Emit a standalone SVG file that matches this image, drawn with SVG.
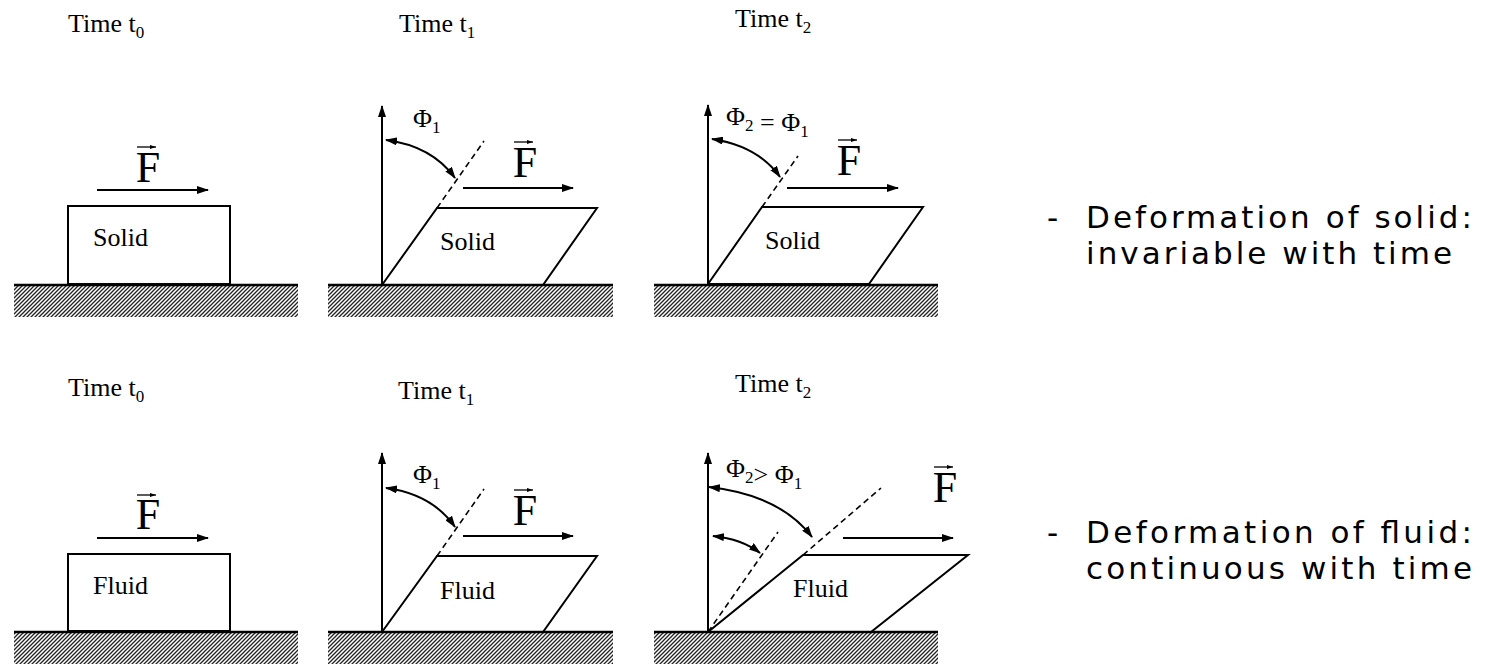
<svg xmlns="http://www.w3.org/2000/svg" width="1486" height="664" viewBox="0 0 1486 664">
<style>
.t{font-family:"Liberation Serif","Times New Roman",serif;font-size:26px;fill:#000}
.sub{font-size:17px}
.F{font-family:"Liberation Serif","Times New Roman",serif;font-size:44px;fill:#000;text-anchor:middle}
.v{font-family:"DejaVu Sans",Verdana,sans-serif;font-size:31px;fill:#000}
.gnd{stroke:#000;stroke-width:2.5}
.dash{stroke:#000;stroke-width:1.6;fill:none;stroke-dasharray:6 4}
.arc{stroke:#000;stroke-width:2;fill:none;marker-start:url(#ah);marker-end:url(#ah)}
.arr{stroke:#000;stroke-width:2;fill:none;marker-end:url(#ah)}
.vec{stroke:#000;stroke-width:1.3;fill:none;marker-end:url(#sh)}
.body{stroke:#000;stroke-width:2;fill:#fff}
</style>
<defs>
<pattern id="hatch" patternUnits="userSpaceOnUse" width="4" height="4">
<rect width="4" height="4" fill="#fff"/>
<path d="M-1,1 l2,-2 M0,4 l4,-4 M3,5 l2,-2" stroke="#222" stroke-width="1.3"/>
</pattern>
<marker id="ah" viewBox="0 0 12 8" refX="11" refY="4" markerWidth="12" markerHeight="8" markerUnits="userSpaceOnUse" orient="auto-start-reverse">
<path d="M0,0 L12,4 L0,8 z" fill="#000"/>
</marker>
<marker id="sh" viewBox="0 0 6 4" refX="6" refY="2" markerWidth="6" markerHeight="4" markerUnits="userSpaceOnUse" orient="auto">
<path d="M0,0 L6,2 L0,4 z" fill="#000"/>
</marker>
</defs>

<g id="solid-t0">
<text class="t" x="68" y="32">Time t<tspan class="sub" dy="6">0</tspan></text>
<rect x="14" y="285" width="284" height="32" fill="url(#hatch)"/>
<rect class="body" x="68" y="206" width="162" height="78"/>
<line class="gnd" x1="14" y1="285" x2="298" y2="285"/>
<text class="t" x="93" y="246">Solid</text>
<line class="arr" x1="97" y1="190" x2="208" y2="190"/>
<text class="F" x="148" y="182">F</text>
<line class="vec" x1="137" y1="147" x2="156" y2="147"/>
</g>

<g id="solid-t1">
<text class="t" x="399" y="32">Time t<tspan class="sub" dy="6">1</tspan></text>
<rect x="328" y="285" width="285" height="32" fill="url(#hatch)"/>
<polygon class="body" points="382,285 437,208 597,208 543,285"/>
<line class="gnd" x1="328" y1="285" x2="613" y2="285"/>
<line class="arr" x1="382" y1="285" x2="382" y2="106"/>
<line class="dash" x1="437" y1="208" x2="484" y2="141"/>
<path class="arc" d="M386,140 Q432,146 455,178"/>
<text class="t" x="413" y="127">Φ<tspan class="sub" dy="6">1</tspan></text>
<text class="t" x="440" y="250">Solid</text>
<line class="arr" x1="463" y1="188" x2="573" y2="188"/>
<text class="F" x="525" y="177">F</text>
<line class="vec" x1="514" y1="142" x2="533" y2="142"/>
</g>

<g id="solid-t2">
<text class="t" x="735" y="27">Time t<tspan class="sub" dy="6">2</tspan></text>
<rect x="654" y="285" width="284" height="32" fill="url(#hatch)"/>
<polygon class="body" points="708,284 762,207 923,207 869,284"/>
<line class="gnd" x1="654" y1="285" x2="938" y2="285"/>
<line class="arr" x1="708" y1="285" x2="708" y2="105"/>
<line class="dash" x1="762" y1="207" x2="798" y2="156"/>
<path class="arc" d="M712,139 Q758,146 780,177"/>
<text class="t" x="726" y="125">Φ<tspan class="sub" dy="6">2</tspan> = Φ<tspan class="sub" dy="6">1</tspan></text>
<text class="t" x="765" y="249">Solid</text>
<line class="arr" x1="787" y1="188" x2="898" y2="188"/>
<text class="F" x="849" y="175">F</text>
<line class="vec" x1="838" y1="140" x2="857" y2="140"/>
</g>

<g id="solid-note">
<text class="v"><tspan x="1047" y="228">-</tspan><tspan x="1086" y="228" textLength="386" lengthAdjust="spacing">Deformation of solid:</tspan><tspan x="1086" y="264" textLength="366" lengthAdjust="spacing">invariable with time</tspan></text>
</g>

<g id="fluid-t0">
<text class="t" x="68" y="396">Time t<tspan class="sub" dy="6">0</tspan></text>
<rect x="14" y="632" width="284" height="32" fill="url(#hatch)"/>
<rect class="body" x="68" y="554" width="162" height="77"/>
<line class="gnd" x1="14" y1="632" x2="298" y2="632"/>
<text class="t" x="93" y="594">Fluid</text>
<line class="arr" x1="97" y1="538" x2="208" y2="538"/>
<text class="F" x="148" y="529">F</text>
<line class="vec" x1="137" y1="495" x2="156" y2="495"/>
</g>

<g id="fluid-t1">
<text class="t" x="398" y="399">Time t<tspan class="sub" dy="6">1</tspan></text>
<rect x="328" y="632" width="285" height="32" fill="url(#hatch)"/>
<polygon class="body" points="382,632 437,556 597,556 543,632"/>
<line class="gnd" x1="328" y1="632" x2="613" y2="632"/>
<line class="arr" x1="382" y1="632" x2="382" y2="453"/>
<line class="dash" x1="437" y1="556" x2="484" y2="489"/>
<path class="arc" d="M386,488 Q432,494 455,527"/>
<text class="t" x="413" y="483">Φ<tspan class="sub" dy="6">1</tspan></text>
<text class="t" x="440" y="599">Fluid</text>
<line class="arr" x1="463" y1="536" x2="573" y2="536"/>
<text class="F" x="525" y="525">F</text>
<line class="vec" x1="514" y1="490" x2="533" y2="490"/>
</g>

<g id="fluid-t2">
<text class="t" x="735" y="392">Time t<tspan class="sub" dy="6">2</tspan></text>
<rect x="654" y="632" width="284" height="32" fill="url(#hatch)"/>
<polygon class="body" points="708,632 803,555 968,555 871,632"/>
<line class="gnd" x1="654" y1="632" x2="938" y2="632"/>
<line class="arr" x1="708" y1="632" x2="708" y2="453"/>
<line class="dash" x1="803" y1="555" x2="881" y2="488"/>
<line class="dash" x1="708" y1="632" x2="778" y2="532"/>
<path class="arc" d="M709,487 Q780,495 812,537"/>
<path class="arc" d="M713,536 Q742,539 760,553"/>
<text class="t" x="726" y="477">Φ<tspan class="sub" dy="6">2</tspan>&gt; Φ<tspan class="sub" dy="6">1</tspan></text>
<text class="t" x="793" y="597">Fluid</text>
<line class="arr" x1="843" y1="538" x2="953" y2="538"/>
<text class="F" x="945" y="502">F</text>
<line class="vec" x1="934" y1="467" x2="953" y2="467"/>
</g>

<g id="fluid-note">
<text class="v"><tspan x="1047" y="543">-</tspan><tspan x="1086" y="543" textLength="386" lengthAdjust="spacing">Deformation of fluid:</tspan><tspan x="1086" y="579" textLength="386" lengthAdjust="spacing">continuous with time</tspan></text>
</g>
</svg>
